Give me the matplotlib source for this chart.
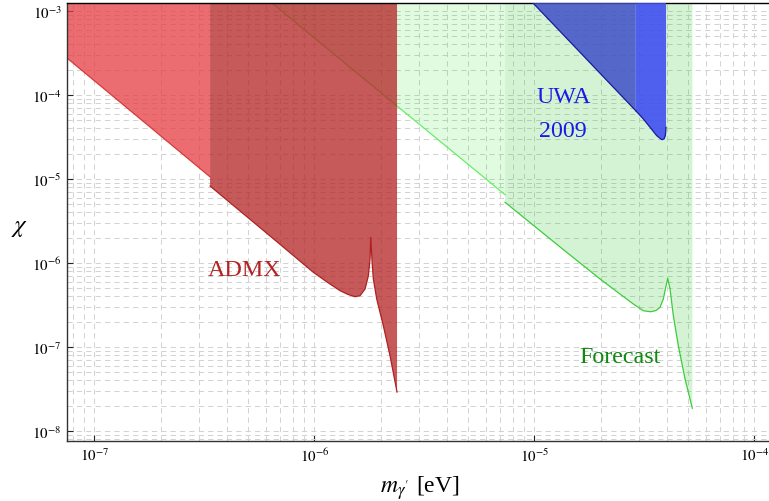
import matplotlib
matplotlib.use('Agg')
import matplotlib.pyplot as plt
from matplotlib.ticker import LogLocator, NullFormatter, FixedLocator, FixedFormatter

plt.rcParams['font.family'] = ['Liberation Serif', 'DejaVu Serif']
plt.rcParams['mathtext.fontset'] = 'stix'

# ---------------- data ----------------
# ADMX, left (lighter) part
admx_lo_m = [7.52e-8, 3.357e-7]
admx_lo_chi = [2.75e-4, 1.06e-5]

# ADMX, main part
admx_m = [3.357e-7, 6.98e-7, 9.86e-7, 1.07e-6, 1.142e-6, 1.309e-6, 1.423e-6, 1.531e-6,
          1.613e-6, 1.700e-6, 1.760e-6, 1.791e-6, 1.805e-6, 1.829e-6, 1.854e-6,
          1.921e-6, 2.059e-6, 2.208e-6, 2.376e-6]
admx_chi = [8.25e-6, 1.670e-6, 7.81e-7, 6.7e-7, 5.94e-7, 4.68e-7, 4.22e-7, 3.97e-7,
            4.08e-7, 4.90e-7, 7.06e-7, 1.115e-6, 2.02e-6, 1.056e-6, 6.45e-7,
            3.73e-7, 1.79e-7, 7.87e-8, 2.91e-8]

# Forecast, upper (lighter) part
fc_hi_m = [5.66e-7, 2.376e-6, 7.36e-6]
fc_hi_chi = [1.63e-3, 7.40e-5, 6.50e-6]

# Forecast, main part
fc_m = [7.36e-6, 1.309e-5, 1.989e-5, 2.286e-5, 2.818e-5, 3.129e-5, 3.381e-5,
        3.574e-5, 3.727e-5, 3.858e-5, 3.956e-5, 4.040e-5, 4.138e-5, 4.283e-5,
        4.513e-5, 4.842e-5, 5.226e-5]
fc_chi = [5.28e-6, 1.551e-6, 6.45e-7, 4.90e-7, 3.25e-7, 2.70e-7, 2.63e-7,
          2.72e-7, 2.97e-7, 3.73e-7, 5.14e-7, 6.57e-7, 4.90e-7, 2.36e-7,
          1.036e-7, 4.16e-8, 1.863e-8]

# UWA 2009
uwa1_m = [9.0e-6, 2.890e-5]
uwa1_chi = [1.60e-3, 6.50e-5]
uwa2_m = [2.890e-5, 3.129e-5, 3.356e-5, 3.600e-5, 3.793e-5, 3.886e-5, 3.940e-5, 3.968e-5]
uwa2_chi = [6.50e-5, 5.18e-5, 4.125e-5, 3.28e-5, 2.94e-5, 2.99e-5, 3.28e-5, 4.125e-5]

x_ticks = [1e-7, 1e-6, 1e-5, 1e-4]
x_ticklabels = [r'$10^{-7}$', r'$10^{-6}$', r'$10^{-5}$', r'$10^{-4}$']
y_ticks = [1e-8, 1e-7, 1e-6, 1e-5, 1e-4, 1e-3]
y_ticklabels = [r'$10^{-8}$', r'$10^{-7}$', r'$10^{-6}$', r'$10^{-5}$', r'$10^{-4}$', r'$10^{-3}$']

XLIM = (7.51e-8, 1.203e-4)
YLIM = (7.54e-9, 1.235e-3)
TOP = 1.0  # fill up to beyond the top of the axes

# ---------------- figure ----------------
fig = plt.figure(figsize=(7.69, 5.02), dpi=100)
ax = fig.add_axes([67/769, 1 - 442.3/502, (772 - 67)/769, (442.3 - 4.3)/502])
ax.set_xscale('log')
ax.set_yscale('log')
ax.set_xlim(*XLIM)
ax.set_ylim(*YLIM)

# grid
ax.set_axisbelow(True)
ax.xaxis.set_minor_locator(LogLocator(base=10, subs=range(2, 10), numticks=50))
ax.yaxis.set_minor_locator(LogLocator(base=10, subs=range(2, 10), numticks=50))
ax.xaxis.set_minor_formatter(NullFormatter())
ax.yaxis.set_minor_formatter(NullFormatter())
ax.grid(which='both', color='#d3d3d3', linestyle=(0, (5, 4)), linewidth=0.75, zorder=0)

# forecast (green)
ax.fill_between(fc_hi_m, fc_hi_chi, TOP, facecolor=(0, 0.9, 0), alpha=0.12,
                linewidth=0, zorder=1)
ax.plot(fc_hi_m, fc_hi_chi, color='#66ee66', linewidth=0.9, zorder=1.5)
ax.fill_between(fc_m, fc_chi, TOP, facecolor=(0.16, 0.78, 0.16), alpha=0.2,
                linewidth=0, zorder=1)
ax.plot(fc_m, fc_chi, color='#3ccc3c', linewidth=0.9, zorder=1.5)

# ADMX (red)
ax.fill_between(admx_lo_m, admx_lo_chi, TOP, facecolor=(0.90, 0.235, 0.255), alpha=0.75,
                linewidth=0, zorder=2)
ax.plot(admx_lo_m, admx_lo_chi, color='#d83a3a', linewidth=0.9, zorder=2.5)
ax.fill_between(admx_m, admx_chi, TOP, facecolor=(0.70, 0.134, 0.134), alpha=0.75,
                linewidth=0, zorder=2)
ax.plot(admx_m, admx_chi, color='#b02020', linewidth=0.9, zorder=2.5)

# UWA (blue)
ax.fill_between(uwa1_m, uwa1_chi, TOP, facecolor='#3f4fc8', alpha=0.85,
                linewidth=0, zorder=3)
ax.fill_between(uwa2_m, uwa2_chi, TOP, facecolor='#4050f0', alpha=0.9,
                linewidth=0, zorder=3)
ax.plot(uwa1_m, uwa1_chi, color='#1a1aa0', linewidth=0.9, zorder=3.5)
ax.plot(uwa2_m, uwa2_chi, color='#1a1aa0', linewidth=0.9, zorder=3.5)

# labels inside plot
fs_lab = 17.3
ax.text(4.82e-7, 7.2e-7, 'ADMX', color='#b22222', fontsize=fs_lab,
        ha='center', va='baseline', zorder=5)
ax.text(1.357e-5, 8.18e-5, 'UWA', color='#1a1ae6', fontsize=fs_lab,
        ha='center', va='baseline', zorder=5)
ax.text(1.344e-5, 3.28e-5, '2009', color='#1a1ae6', fontsize=fs_lab,
        ha='center', va='baseline', zorder=5)
ax.text(2.444e-5, 6.57e-8, 'Forecast', color='#118811', fontsize=fs_lab,
        ha='center', va='baseline', zorder=5)

# ticks
ax.xaxis.set_major_locator(FixedLocator(x_ticks))
ax.xaxis.set_major_formatter(FixedFormatter(x_ticklabels))
ax.yaxis.set_major_locator(FixedLocator(y_ticks))
ax.yaxis.set_major_formatter(FixedFormatter(y_ticklabels))
ax.tick_params(which='major', direction='in', length=4.3, width=0.8, color='#222222',
               labelsize=10.8, pad=4, top=False, right=False)
ax.tick_params(which='minor', length=0)

for s in ['left', 'bottom', 'top', 'right']:
    ax.spines[s].set_linewidth(1.0)
    ax.spines[s].set_color('#333333')
ax.spines['top'].set_color('black')

# axis labels
ax.set_xlabel(r"$m_{\gamma'}$ [eV]", fontsize=17)
ax.xaxis.label.set_va('center')
ax.xaxis.set_label_coords((420 - 67) / 705, (442.3 - 488) / 438)
ax.set_ylabel(r'$\chi$', fontsize=18, rotation=0)
ax.yaxis.label.set_va('center')
ax.yaxis.label.set_ha('center')
ax.yaxis.set_label_coords((20 - 67) / 705, (442.3 - 228) / 438)

fig.savefig('out.png', dpi=100)
